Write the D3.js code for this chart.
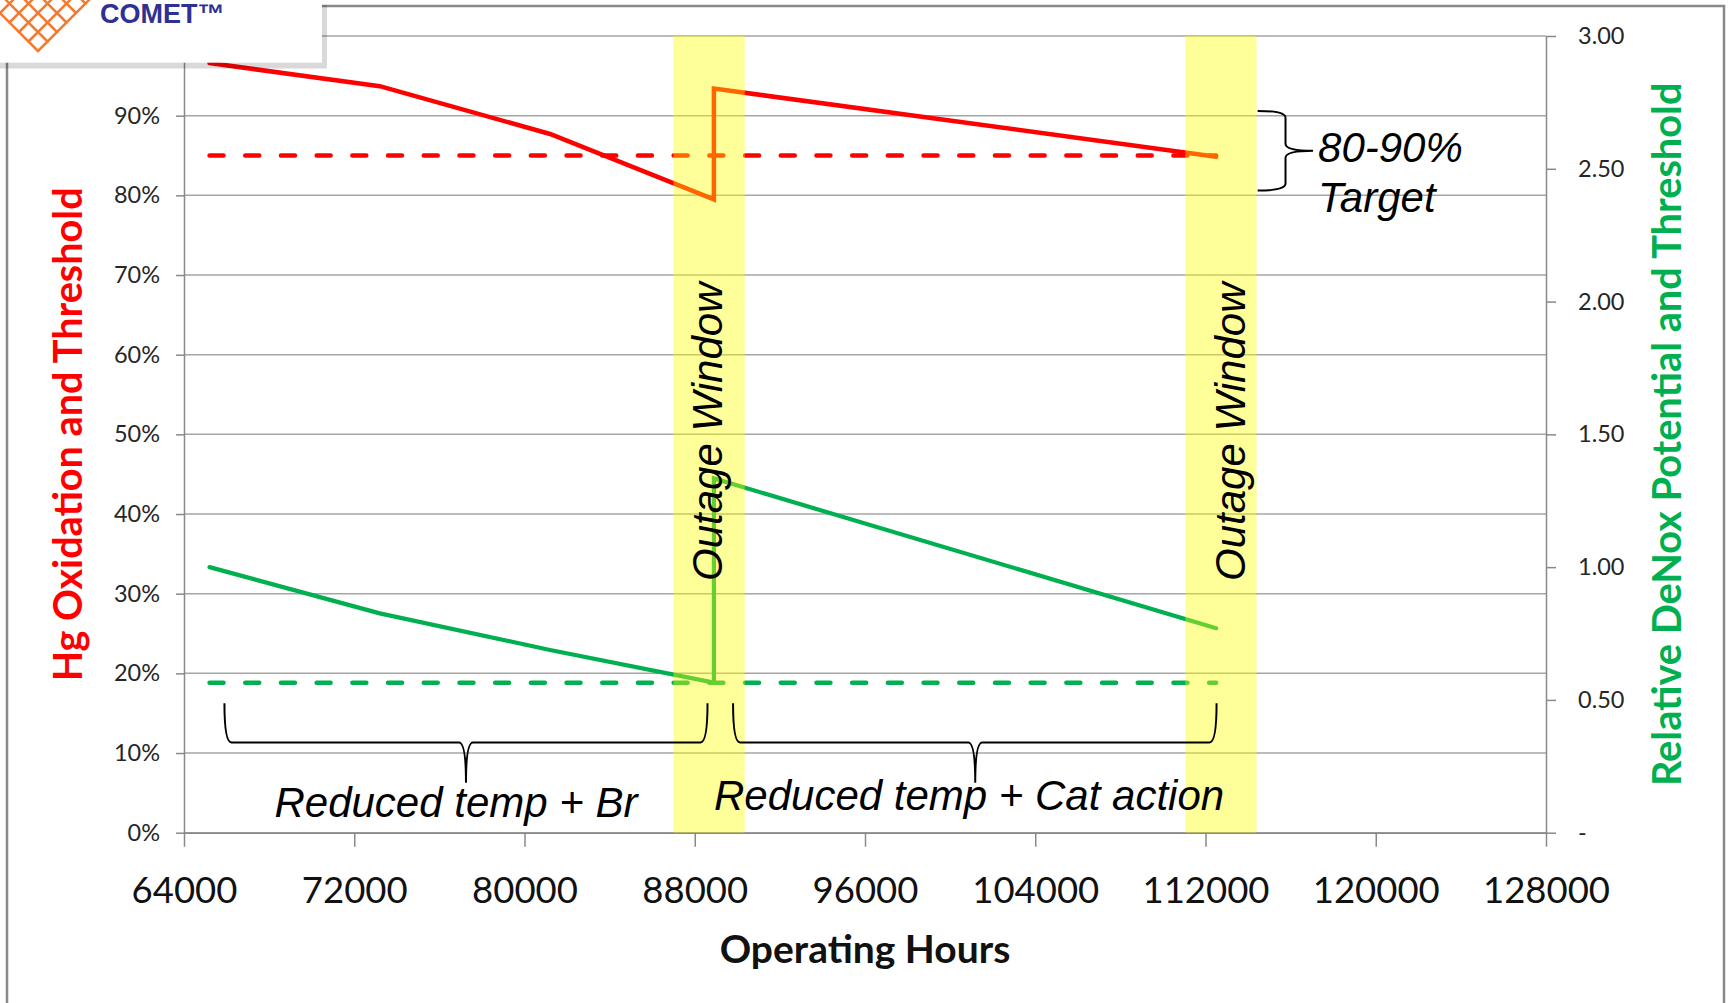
<!DOCTYPE html>
<html>
<head>
<meta charset="utf-8">
<script src="https://cdn.jsdelivr.net/npm/d3@7"></script>
<style>
  html, body { margin: 0; padding: 0; background: #fff; }
  svg { display: block; }
</style>
</head>
<body>
<svg id="chart" width="1729" height="1003"></svg>
<script>
// ---- data ----
// Operating hours of each sample; the repeated hour is the outage reset
const hours = [65200, 73200, 81200, 88900, 88900, 112500];
// Hg oxidation (fraction, left axis)
const hgOxidation = [0.966, 0.937, 0.877, 0.795, 0.934, 0.8485];
// Relative DeNox potential (right axis)
const deNoxPotential = [1.00, 0.826, 0.688, 0.565, 1.334, 0.770];
// Thresholds and the hours they span
const hgThreshold = 0.85;
const deNoxThreshold = 0.565;
const thresholdHours = [65200, 112500];
// Outage windows [start, end] in operating hours
const outageWindows = [[87000, 90350], [111050, 114400]];
// Axis ticks
const xTicks = [64000, 72000, 80000, 88000, 96000, 104000, 112000, 120000, 128000];
const leftTicks = [0, 0.1, 0.2, 0.3, 0.4, 0.5, 0.6, 0.7, 0.8, 0.9, 1.0];
const rightTicks = [0, 0.5, 1.0, 1.5, 2.0, 2.5, 3.0];

// ---- scales ----
const x = d3.scaleLinear().domain([64000, 128000]).range([184, 1546]);
const yL = d3.scaleLinear().domain([0, 1]).range([832.7, 36]);
const yR = d3.scaleLinear().domain([0, 3]).range([832.7, 36]);

const svg = d3.select("#chart");
const RED = "#ff0000", GREEN = "#00b050", GRID = "#a6a6a6", AXIS = "#898989";
const tickFont = "Lato, 'Noto Sans', sans-serif";
const noteFont = "'Liberation Sans', Arial, sans-serif";

// outer chart frame
svg.append("rect")
  .attr("x", 7).attr("y", 6).attr("width", 1717).attr("height", 1010)
  .attr("fill", "none").attr("stroke", AXIS).attr("stroke-width", 2.5);

// horizontal gridlines
svg.append("g").selectAll("line").data(leftTicks).join("line")
  .attr("x1", x.range()[0]).attr("x2", x.range()[1])
  .attr("y1", d => yL(d)).attr("y2", d => yL(d))
  .attr("stroke", GRID).attr("stroke-width", 1.5);

// axes
function styleAxis(g, size) {
  g.select(".domain").attr("stroke", AXIS).attr("stroke-width", 1.5);
  g.selectAll(".tick line").attr("stroke", AXIS).attr("stroke-width", 1.5);
  g.selectAll(".tick text").attr("font-family", tickFont).attr("font-size", size).attr("fill", "#262626");
}
// the 100% label sits under the logo card, so it is left blank
const pct = d3.format(".0%");
svg.append("g").attr("transform", `translate(${x.range()[0]},0)`)
  .call(d3.axisLeft(yL).tickValues(leftTicks).tickSize(8).tickSizeOuter(0).tickPadding(16)
        .tickFormat(d => d >= 1 ? "" : pct(d)))
  .call(g => styleAxis(g, 23.5));
svg.append("g").attr("transform", `translate(${x.range()[1]},0)`)
  .call(d3.axisRight(yR).tickValues(rightTicks).tickSize(10).tickSizeOuter(0).tickPadding(22)
        .tickFormat(d => d === 0 ? "-" : d.toFixed(2)))
  .call(g => styleAxis(g, 23.5));
svg.append("g").attr("transform", `translate(0,${yL(0)})`)
  .call(d3.axisBottom(x).tickValues(xTicks).tickSize(14).tickSizeOuter(0).tickPadding(30)
        .tickFormat(d3.format("d")))
  .call(g => styleAxis(g, 36.5))
  .call(g => g.selectAll(".tick text").attr("fill", "#111"));

// axis titles
svg.append("text")
  .attr("transform", `translate(68,${(yL(0) + yL(1)) / 2}) rotate(-90)`)
  .attr("dy", "0.36em").attr("text-anchor", "middle")
  .attr("font-family", tickFont).attr("font-weight", 700).attr("font-size", 39.6)
  .attr("fill", RED).text("Hg Oxidation and Threshold");
svg.append("text")
  .attr("transform", `translate(1667,${(yL(0) + yL(1)) / 2}) rotate(-90)`)
  .attr("dy", "0.36em").attr("text-anchor", "middle")
  .attr("font-family", tickFont).attr("font-weight", 700).attr("font-size", 39.7)
  .attr("fill", GREEN).text("Relative DeNox Potential and Threshold");
svg.append("text")
  .attr("x", (x.range()[0] + x.range()[1]) / 2).attr("y", 963)
  .attr("text-anchor", "middle")
  .attr("font-family", tickFont).attr("font-weight", 700).attr("font-size", 39)
  .attr("fill", "#111").text("Operating Hours");

// threshold lines (dashed)
function hline(value, scale, color) {
  svg.append("line")
    .attr("x1", x(thresholdHours[0])).attr("x2", x(thresholdHours[1]))
    .attr("y1", scale(value)).attr("y2", scale(value))
    .attr("stroke", color).attr("stroke-width", 4.5)
    .attr("stroke-dasharray", "14 21.7").attr("stroke-linecap", "round");
}
hline(hgThreshold, yL, RED);
hline(deNoxThreshold, yR, GREEN);

// measured series
const hgLine = d3.line().x((d, i) => x(hours[i])).y(d => yL(d));
const noxLine = d3.line().x((d, i) => x(hours[i])).y(d => yR(d));
svg.append("path").attr("d", noxLine(deNoxPotential))
  .attr("fill", "none").attr("stroke", GREEN).attr("stroke-width", 4.2)
  .attr("stroke-linecap", "round").attr("stroke-linejoin", "miter");
svg.append("path").attr("d", hgLine(hgOxidation))
  .attr("fill", "none").attr("stroke", RED).attr("stroke-width", 4.5)
  .attr("stroke-linecap", "round").attr("stroke-linejoin", "miter");

// outage windows, translucent yellow over the series
svg.append("g").selectAll("rect").data(outageWindows).join("rect")
  .attr("x", d => x(d[0])).attr("width", d => x(d[1]) - x(d[0]))
  .attr("y", yL(1)).attr("height", yL(0) - yL(1))
  .attr("fill", "#ffff00").attr("fill-opacity", 0.4);

// brace helpers
function underBrace(h1, h2, hm, yTop, yMid, yTip) {
  const x1 = x(h1), x2 = x(h2), xm = x(hm);
  const a = yL(yTop), b = yL(yMid), c = yL(yTip), r = 7;
  return `M${x1},${a} Q${x1},${b} ${x1 + r},${b} L${xm - r},${b} Q${xm},${b} ${xm},${c}` +
         ` Q${xm},${b} ${xm + r},${b} L${x2 - r},${b} Q${x2},${b} ${x2},${a}`;
}
function rightBrace(hEnd, hBar, hTip, vTop, vBot) {
  const x0 = x(hEnd), x1 = x(hBar), x2 = x(hTip);
  const a = yL(vTop), b = yL(vBot), m = (a + b) / 2, r = 7;
  return `M${x0},${a} Q${x1},${a} ${x1},${a + r} L${x1},${m - r} Q${x1},${m} ${x2},${m}` +
         ` Q${x1},${m} ${x1},${m + r} L${x1},${b - r} Q${x1},${b} ${x0},${b}`;
}
const braces = [
  underBrace(65900, 88600, 77250, 0.1624, 0.1132, 0.0628),
  underBrace(89800, 112520, 101180, 0.1624, 0.1132, 0.0628),
  rightBrace(114450, 115760, 117050, 0.906, 0.806)
];
svg.append("g").selectAll("path").data(braces).join("path")
  .attr("d", d => d).attr("fill", "none").attr("stroke", "#000").attr("stroke-width", 2);

// annotation text
const notes = svg.append("g").attr("font-family", noteFont).attr("font-style", "italic")
  .attr("font-size", 42).attr("fill", "#000");
[89280, 113860].forEach(h => {
  notes.append("text")
    .attr("transform", `translate(${x(h)},${yL(0.316)}) rotate(-90)`)
    .text("Outage Window");
});
notes.append("text").attr("x", x(76780)).attr("y", yL(0.0203))
  .attr("text-anchor", "middle").text("Reduced temp + Br");
notes.append("text").attr("x", x(100890)).attr("y", yL(0.0285))
  .attr("text-anchor", "middle").text("Reduced temp + Cat action");
notes.append("text").attr("x", x(117290)).attr("y", yL(0.8419)).text("80-90%");
notes.append("text").attr("x", x(117290)).attr("y", yL(0.7795)).text("Target");

// logo card in the top-left corner
const logo = svg.append("g");
logo.append("rect").attr("x", 0).attr("y", 5).attr("width", 327).attr("height", 63.5)
  .attr("fill", "#000").attr("fill-opacity", 0.15);
logo.append("rect").attr("x", -5).attr("y", -5).attr("width", 327).attr("height", 67.7)
  .attr("fill", "#fff");
const lattice = logo.append("g").attr("stroke", "#f47a30").attr("stroke-width", 2.5)
  .attr("stroke-linecap", "round");
const cellStep = 19, apexSum = 89, apexDiff = 13, edgeY = -6;
for (let c = apexSum; c > -25; c -= cellStep) {
  lattice.append("line")
    .attr("x1", (c - apexDiff) / 2).attr("y1", (c + apexDiff) / 2)
    .attr("x2", c - edgeY).attr("y2", edgeY);
}
for (let dd = apexDiff; dd > -100; dd -= cellStep) {
  lattice.append("line")
    .attr("x1", (apexSum - dd) / 2).attr("y1", (apexSum + dd) / 2)
    .attr("x2", edgeY - dd).attr("y2", edgeY);
}
logo.append("text").attr("x", 100).attr("y", 23)
  .attr("font-family", "'Liberation Sans', Arial, sans-serif").attr("font-weight", 700)
  .attr("font-size", 27).attr("fill", "#2e3192").text("COMET\u2122");
</script>
</body>
</html>
